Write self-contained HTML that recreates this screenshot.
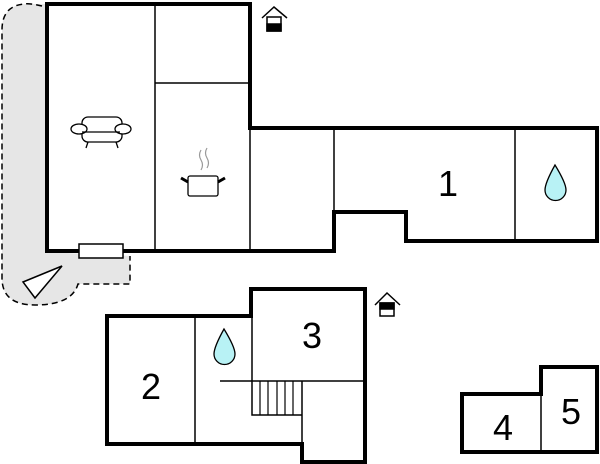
<!DOCTYPE html>
<html><head><style>html,body{margin:0;padding:0;background:#fff;}svg{display:block}</style></head>
<body>
<svg width="600" height="464" viewBox="0 0 600 464" xmlns="http://www.w3.org/2000/svg" font-family="Liberation Sans, sans-serif">
<path d="M45,252 L45,4 L28,4 Q2,4 2,30 L2,278 Q2,305 35,305 Q72,305 78,284 L130,284 L130,256 Z" fill="#e6e6e6"/>
<path d="M42,6 Q30,3 24,4 Q2,6 2,30 L2,278 Q2,305 35,305 Q72,305 78,284 L130,284 L130,256" fill="none" stroke="#000" stroke-width="1.5" stroke-dasharray="6,4"/>
<polygon points="23,282 62,266 35,298" fill="#fff" stroke="#000" stroke-width="1.5"/>
<g fill="none" stroke="#000">
<path d="M47,4 L250,4 L250,128 L597,128 L597,241 L406,241 L406,212 L334,212 L334,251 L47,251 Z" fill="#fff" stroke-width="4"/>
<path d="M155,4 V251 M155,83 H250 M250,128 V251 M334,128 V212 M515,128 V241" stroke-width="1.5"/>
</g>
<rect x="79" y="244" width="44" height="14" fill="#fff" stroke="#000" stroke-width="1.5"/>
<g fill="#fff" stroke="#000" stroke-width="1.3">
<rect x="82" y="117" width="40" height="25" rx="6"/>
<ellipse cx="79" cy="129" rx="8" ry="5"/><ellipse cx="123" cy="129" rx="8" ry="5"/>
<path d="M82,132 H120 M88,142 L86,148 M116,142 L118,148"/>
</g>
<g stroke="#000" fill="#fff">
<rect x="188" y="176" width="30" height="20" rx="2" stroke-width="1.3"/>
<path d="M188,182 L181,178 M218,182 L225,178" stroke-width="3"/>
<path d="M201,150 Q198,155 201,160 Q204,165 201,170 M207,148 Q204,153 207,158 Q210,163 207,168" stroke="#999" fill="none" stroke-width="1.2"/>
</g>
<g stroke="#000" stroke-width="1.5" fill="none">
<path d="M262,18 L274,7 L287,18"/><rect x="267" y="17" width="14" height="14" fill="#fff"/><rect x="267" y="24" width="14" height="7" fill="#000"/>
<path d="M375,305 L387,293 L400,305"/><rect x="380" y="303" width="14" height="13" fill="#fff"/><rect x="380" y="303" width="14" height="6" fill="#000"/>
</g>
<g fill="none" stroke="#000">
<path d="M107,316 L251,316 L251,289 L365,289 L365,462 L302,462 L302,444 L107,444 Z" fill="#fff" stroke-width="4"/>
<path d="M195,316 V444 M220,381 H365 M302,381 V444 M252,316 V415 H302" stroke-width="1.5"/>
<path d="M260,381 V415 M268,381 V415 M277,381 V415 M285,381 V415 M293,381 V415" stroke-width="1.2"/>
</g>
<g fill="none" stroke="#000">
<path d="M462,394 L541,394 L541,367 L597,367 L597,452 L462,452 Z" fill="#fff" stroke-width="4"/>
<path d="M541,394 V452" stroke-width="1.5"/>
</g>
<path d="M555,165 Q566,183 566,190 A10.5,10.5 0 0 1 545,190 Q545,183 555,165 Z" fill="#b8f2f5" stroke="#000" stroke-width="1.3"/>
<path d="M224,329 Q235,347 235,354 A10.5,10.5 0 0 1 214,354 Q214,347 224,329 Z" fill="#b8f2f5" stroke="#000" stroke-width="1.3"/>
<g font-size="36" text-anchor="middle" fill="#000">
<text x="448" y="196">1</text>
<text x="151" y="399">2</text>
<text x="312" y="348">3</text>
<text x="503" y="440">4</text>
<text x="571" y="424">5</text>
</g>
</svg>
</body></html>
